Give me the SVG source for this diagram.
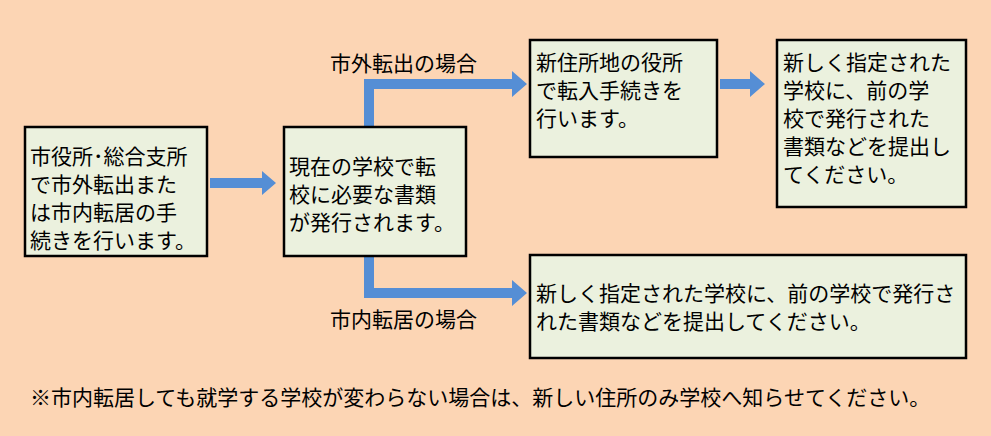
<svg xmlns="http://www.w3.org/2000/svg" width="991" height="436" viewBox="0 0 991 436">
<defs><style>
.b{fill:#ebf1de;stroke:#000;stroke-width:2.5}
.t{font-family:"Liberation Sans","Noto Sans CJK JP",sans-serif;font-size:21px;fill:#000}
.a{fill:#558ed5}
</style></defs>
<rect width="991" height="436" fill="#fcd5b4"/>
<g id="connectors">
<polygon class="a" points="210,178 262,178 262,171 276,183 262,195 262,188 210,188"/>
<polygon class="a" points="364,128 364,79 512,79 512,71 527,84 512,97 512,89 374,89 374,128"/>
<polygon class="a" points="364,256 364,298 512,298 512,306 527,293 512,280 512,288 374,288 374,256"/>
<polygon class="a" points="720,79 750,79 750,71 765,84 750,97 750,89 720,89"/>
<text class="t" x="330" y="71">市外転出の場合</text>
<text class="t" x="330" y="327">市内転居の場合</text>
</g>
<g id="n1"><rect class="b" x="25" y="127" width="182" height="129"/>
<text class="t" x="30" y="164">市役所･総合支所</text><text class="t" x="30" y="192">で市外転出また</text><text class="t" x="30" y="220">は市内転居の手</text><text class="t" x="30" y="248">続きを行います。</text></g>
<g id="n2"><rect class="b" x="284" y="127" width="182" height="129"/>
<text class="t" x="289" y="174">現在の学校で転</text><text class="t" x="289" y="202">校に必要な書類</text><text class="t" x="289" y="230">が発行されます。</text></g>
<g id="n3"><rect class="b" x="530" y="40" width="187" height="117"/>
<text class="t" x="536" y="70">新住所地の役所</text><text class="t" x="536" y="98">で転入手続きを</text><text class="t" x="536" y="126">行います。</text></g>
<g id="n4"><rect class="b" x="777" y="40" width="189" height="167"/>
<text class="t" x="783" y="70">新しく指定された</text><text class="t" x="783" y="98">学校に、前の学</text><text class="t" x="783" y="126">校で発行された</text><text class="t" x="783" y="154">書類などを提出し</text><text class="t" x="783" y="182">てください。</text></g>
<g id="n5"><rect class="b" x="530" y="255" width="436" height="103"/>
<text class="t" x="536" y="301">新しく指定された学校に、前の学校で発行さ</text><text class="t" x="536" y="329">れた書類などを提出してください。</text></g>
<text class="t" x="30" y="405">※市内転居しても就学する学校が変わらない場合は、新しい住所のみ学校へ知らせてください。</text>
</svg>
